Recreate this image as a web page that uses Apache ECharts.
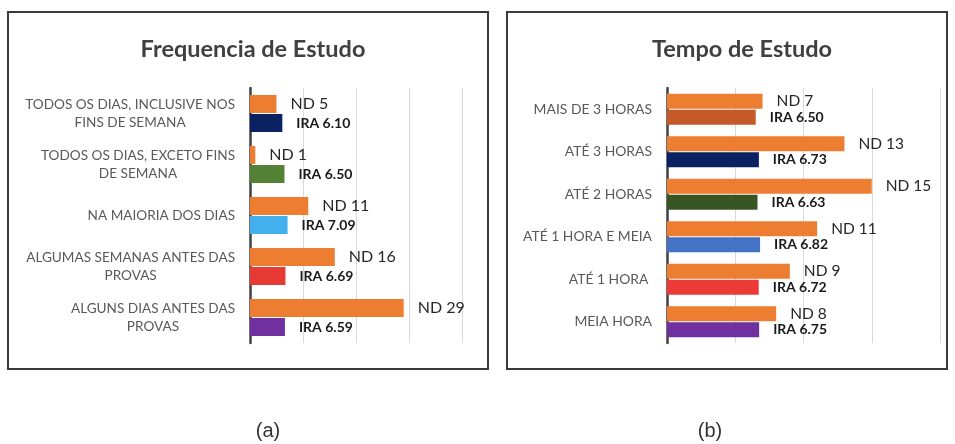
<!DOCTYPE html>
<html>
<head>
<meta charset="utf-8">
<script src="https://cdn.jsdelivr.net/npm/echarts@6/dist/echarts.min.js"></script>
<style>
  html, body { margin: 0; padding: 0; background: #fff; }
  #chart { width: 955px; height: 444px; }
</style>
</head>
<body>
<div id="chart"></div>
<script>
// (a) Frequencia de Estudo
const freqCategories = [
  'TODOS OS DIAS, INCLUSIVE NOS\nFINS DE SEMANA',
  'TODOS OS DIAS, EXCETO FINS\nDE SEMANA',
  'NA MAIORIA DOS DIAS',
  'ALGUMAS SEMANAS ANTES DAS\nPROVAS',
  'ALGUNS DIAS ANTES DAS\nPROVAS'
]
const freqND = [5, 1, 11, 16, 29]
const freqIRA = [6.10, 6.50, 7.09, 6.69, 6.59]

// (b) Tempo de Estudo
const tempoCategories = ['MAIS DE 3 HORAS', 'ATÉ 3 HORAS', 'ATÉ 2 HORAS', 'ATÉ 1 HORA E MEIA', 'ATÉ 1 HORA ', 'MEIA HORA']
const tempoND = [7, 13, 15, 11, 9, 8]
const tempoIRA = [6.50, 6.73, 6.63, 6.82, 6.72, 6.75]

const freqColors = ['#0a2262', '#548235', '#41b0ec', '#e83a35', '#7030a0']
const tempoColors = ['#c55a28', '#0a2262', '#375623', '#4472c4', '#ec3a37', '#7030a0']
const ndColor = '#ed7d31'
const font = 'Lato, "Open Sans", sans-serif'

const chart = echarts.init(document.getElementById('chart'))

const catAxis = (gridIndex, data, size) => ({
  type: 'category',
  gridIndex,
  data,
  inverse: true,
  axisTick: { show: false },
  axisLine: { lineStyle: { color: '#404040', width: 2.5 } },
  axisLabel: {
    margin: 15,
    color: '#595959',
    fontFamily: font,
    fontSize: size,
    lineHeight: 18,
    // centre every line of a wrapped label
    formatter: v => v.split('\n').map(l => '{c|' + l + '}').join('\n'),
    rich: {
      c: { align: 'center', color: '#595959', fontFamily: font, fontSize: size, lineHeight: 18 }
    }
  }
})

const valAxis = (gridIndex, max, interval) => ({
  type: 'value',
  gridIndex,
  min: 0,
  max,
  interval,
  axisLabel: { show: false },
  axisLine: { show: false },
  axisTick: { show: false },
  splitLine: { lineStyle: { color: '#d9d9d9', width: 1 } }
})

const ndSeries = (idx, data, barWidth, size) => ({
  type: 'bar',
  xAxisIndex: idx,
  yAxisIndex: idx,
  data,
  barWidth,
  barGap: '6%',
  itemStyle: { color: ndColor },
  label: {
    show: true,
    position: 'right',
    distance: 14,
    formatter: p => 'ND ' + p.value,
    color: '#262626',
    fontFamily: font,
    fontSize: size
  }
})

const iraSeries = (idx, data, colors, barWidth, size) => ({
  type: 'bar',
  xAxisIndex: idx,
  yAxisIndex: idx,
  data: data.map((v, i) => ({ value: v, itemStyle: { color: colors[i] } })),
  barWidth,
  barGap: '6%',
  label: {
    show: true,
    position: 'right',
    distance: 14,
    formatter: p => 'IRA ' + p.value.toFixed(2),
    color: '#1a1a1a',
    fontWeight: 'bold',
    fontFamily: font,
    fontSize: size
  }
})

const titleStyle = { fontFamily: font, fontSize: 23.5, fontWeight: 'bold', color: '#404040' }

const option = {
  animation: false,
  title: [
    { text: 'Frequencia de Estudo', left: 248, top: 32, textAlign: 'center', textStyle: titleStyle },
    { text: 'Tempo de Estudo', left: 737, top: 32, textAlign: 'center', textStyle: titleStyle }
  ],
  grid: [
    { left: 250, right: 493, top: 88, height: 255 },
    { left: 667, right: 15, top: 88, height: 255 }
  ],
  xAxis: [valAxis(0, 40, 10), valAxis(1, 20, 5)],
  yAxis: [catAxis(0, freqCategories, 13.6), catAxis(1, tempoCategories, 13.9)],
  series: [
    ndSeries(0, freqND, 18, 16),
    iraSeries(0, freqIRA, freqColors, 18, 14),
    ndSeries(1, tempoND, 15, 15.5),
    iraSeries(1, tempoIRA, tempoColors, 15, 14)
  ],
  graphic: [
    {
      type: 'rect',
      shape: { x: 8, y: 12, width: 480, height: 357 },
      style: { fill: 'none', stroke: '#3a3a3a', lineWidth: 2 },
      z: -1
    },
    {
      type: 'rect',
      shape: { x: 507, y: 12, width: 440, height: 357 },
      style: { fill: 'none', stroke: '#3a3a3a', lineWidth: 2 },
      z: -1
    },
    {
      type: 'text',
      x: 268,
      y: 431,
      style: { text: '(a)', fill: '#333', font: '20px "Liberation Sans", Arial, sans-serif', textAlign: 'center', textVerticalAlign: 'middle' }
    },
    {
      type: 'text',
      x: 710,
      y: 431,
      style: { text: '(b)', fill: '#333', font: '20px "Liberation Sans", Arial, sans-serif', textAlign: 'center', textVerticalAlign: 'middle' }
    }
  ]
}

chart.setOption(option)
</script>
</body>
</html>
